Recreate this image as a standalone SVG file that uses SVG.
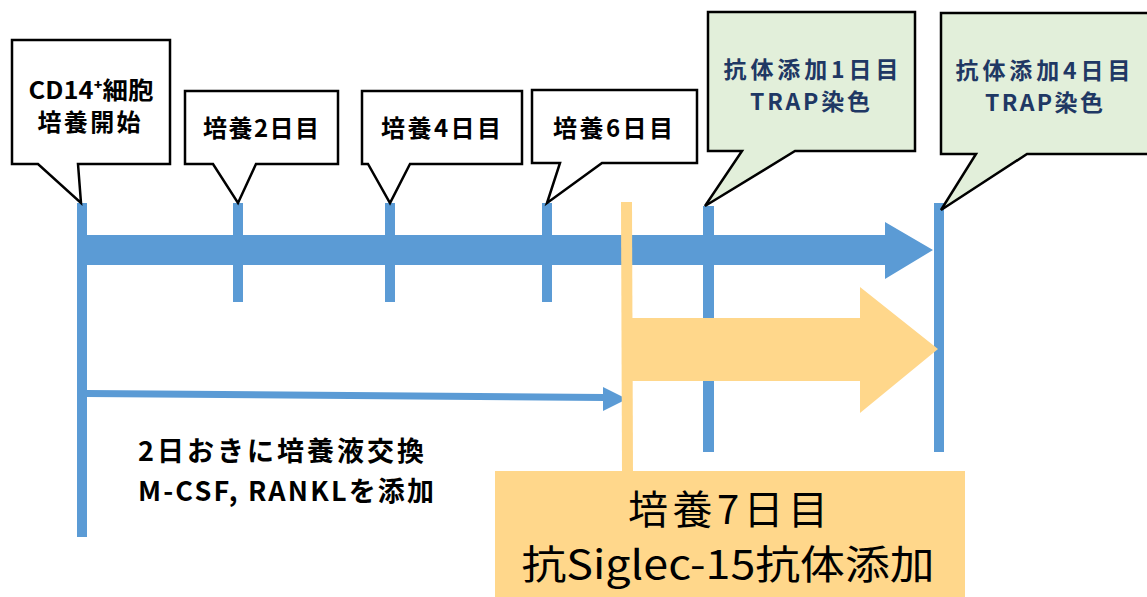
<svg xmlns="http://www.w3.org/2000/svg" width="1147" height="597" viewBox="0 0 1147 597">
<style>
.call{fill:#fff;stroke:#000;stroke-width:2.5;stroke-linejoin:miter}
.green{fill:#E2EFDA;stroke:#000;stroke-width:2.5}
.t{font-family:"Noto Sans CJK JP","Noto Sans",sans-serif;font-weight:bold;font-size:24px;fill:#000}
.tm{font-family:"Noto Sans CJK JP","Noto Sans",sans-serif;font-weight:bold;font-size:27px;fill:#000}
.tg{font-family:"Noto Sans CJK JP","Noto Sans",sans-serif;font-weight:bold;font-size:23px;fill:#1F3864}
.blue{fill:#5B9BD5}
.org{fill:#FFD78B}
.big{font-family:"Noto Sans CJK JP","Noto Sans",sans-serif;font-size:40px;fill:#000}
</style>
<rect width="1147" height="597" fill="#fff"/>
<g id="connectors">
  <rect class="blue" x="77" y="203" width="10" height="334"/>
  <rect class="blue" x="233" y="203" width="10" height="99"/>
  <rect class="blue" x="385" y="203" width="10" height="99"/>
  <rect class="blue" x="542" y="203" width="10" height="99"/>
  <rect class="blue" x="703" y="206" width="11" height="246"/>
  <rect class="blue" x="934" y="203" width="10" height="249"/>
  <path class="blue" d="M78,235 H885 V222 L933,250 L885,279 V265 H78 Z"/>
  <path class="blue" d="M87,390 L605,394 L605,401 L87,397 Z"/>
  <path class="blue" d="M603,387 L627,399 L603,411 Z"/>
  <path class="org" d="M621,202 H632 L633,472 H622 Z"/>
  <path class="org" d="M632,318 H860 V287 L938,349 L860,413 V381 H632 Z"/>
</g>
<g id="n-cd14">
  <path class="call" d="M12,40 H170 V164 H78 L81,203 L38,164 H12 Z"/>
  <text class="t" x="91" y="99" text-anchor="middle" textLength="125" lengthAdjust="spacingAndGlyphs">CD14⁺細胞</text>
  <text class="t" x="89" y="131" text-anchor="middle" textLength="103" lengthAdjust="spacing">培養開始</text>
</g>
<g id="n-day2">
  <path class="call" d="M185,91 H338 V164 H256 L238,203 L213,164 H185 Z"/>
  <text class="t" x="261" y="137" text-anchor="middle" textLength="116" lengthAdjust="spacing">培養2日目</text>
</g>
<g id="n-day4">
  <path class="call" d="M362,91 H522 V164 H410 L390,203 L368,164 H362 Z"/>
  <text class="t" x="441" y="137" text-anchor="middle" textLength="120" lengthAdjust="spacing">培養4日目</text>
</g>
<g id="n-day6">
  <path class="call" d="M532,90 H697 V163 H602 L547,203 L560,163 H532 Z"/>
  <text class="t" x="613" y="137" text-anchor="middle" textLength="120" lengthAdjust="spacing">培養6日目</text>
</g>
<g id="n-ab1">
  <path class="green" d="M708,12 H915 V151 H795 L705,206 L742,151 H708 Z"/>
  <text class="tg" x="811" y="78" text-anchor="middle" textLength="175" lengthAdjust="spacing">抗体添加1日目</text>
  <text class="tg" x="810" y="110" text-anchor="middle" textLength="120" lengthAdjust="spacing">TRAP染色</text>
</g>
<g id="n-ab4">
  <path class="green" d="M941,13 H1150 V154 H1027 L941,210 L976,154 H941 Z"/>
  <text class="tg" x="1043" y="79" text-anchor="middle" textLength="175" lengthAdjust="spacing">抗体添加4日目</text>
  <text class="tg" x="1044" y="111" text-anchor="middle" textLength="118" lengthAdjust="spacing">TRAP染色</text>
</g>
<g id="n-medium">
  <text class="tm" x="138" y="461" textLength="286" lengthAdjust="spacing">2日おきに培養液交換</text>
  <text class="tm" x="138" y="501" textLength="296" lengthAdjust="spacing">M-CSF, RANKLを添加</text>
</g>
<g id="n-day7">
  <rect class="org" x="495" y="471" width="470" height="126"/>
  <text class="big" x="728" y="524" text-anchor="middle" textLength="200" lengthAdjust="spacing">培養7日目</text>
  <text class="big" x="728" y="579" text-anchor="middle" textLength="413" lengthAdjust="spacingAndGlyphs">抗Siglec-15抗体添加</text>
</g>
</svg>
